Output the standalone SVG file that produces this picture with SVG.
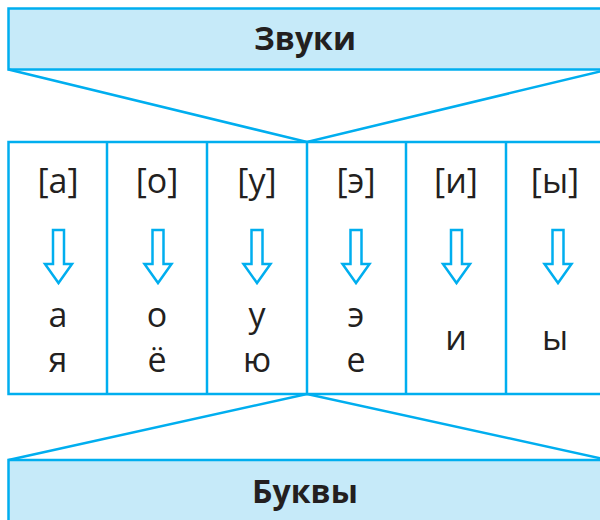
<svg xmlns="http://www.w3.org/2000/svg" width="600" height="520" viewBox="0 0 600 520">
<defs>
<style>
.ln{stroke:#00aeef;stroke-width:2.5;fill:none}
.hd{fill:#c6eaf9;stroke:#00aeef;stroke-width:2.5}
.t{font-family:"Open Sans","Noto Sans",sans-serif;font-size:34px;fill:#231f20;text-anchor:middle}
.b{font-family:"Open Sans","Noto Sans",sans-serif;font-size:32px;font-weight:bold;fill:#231f20;text-anchor:middle}
.ar{fill:#fff;stroke:#00aeef;stroke-width:2.5;stroke-linejoin:miter}
</style>
<path id="arrow" class="ar" d="M-5.5,-53 H5.5 V-19 H13.5 L0,0 L-13.5,-19 H-5.5 Z"/>
</defs>
<rect width="600" height="520" fill="#fff"/>
<g id="zvuki">
<rect class="hd" x="8.5" y="8.5" width="600" height="61"/>
<text class="b" x="305" y="50">Звуки</text>
</g>
<g id="bukvy">
<rect class="hd" x="8.5" y="460" width="600" height="70"/>
<text class="b" x="305" y="503">Буквы</text>
</g>
<g id="connectors">
<polyline class="ln" points="8.5,69.5 307,142 608,69.5"/>
<polyline class="ln" points="8.5,460 307,394 608,460"/>
</g>
<g id="table">
<rect class="ln" x="8.5" y="142" width="600" height="252"/>
<line class="ln" x1="107" y1="142" x2="107" y2="394"/>
<line class="ln" x1="207" y1="142" x2="207" y2="394"/>
<line class="ln" x1="307" y1="142" x2="307" y2="394"/>
<line class="ln" x1="406" y1="142" x2="406" y2="394"/>
<line class="ln" x1="506" y1="142" x2="506" y2="394"/>
</g>
<g id="col-a">
<text class="t" x="58" y="193">[а]</text>
<use href="#arrow" x="58.5" y="283"/>
<text class="t" x="58" y="327">а</text>
<text class="t" x="58" y="372">я</text>
</g>
<g id="col-o">
<text class="t" x="157" y="193">[о]</text>
<use href="#arrow" x="158" y="283"/>
<text class="t" x="157" y="327">о</text>
<text class="t" x="157" y="372">ё</text>
</g>
<g id="col-u">
<text class="t" x="257" y="193">[у]</text>
<use href="#arrow" x="257" y="283"/>
<text class="t" x="257" y="327">у</text>
<text class="t" x="257" y="372">ю</text>
</g>
<g id="col-e">
<text class="t" x="356" y="193">[э]</text>
<use href="#arrow" x="356" y="283"/>
<text class="t" x="356" y="327">э</text>
<text class="t" x="356" y="372">е</text>
</g>
<g id="col-i">
<text class="t" x="456" y="193">[и]</text>
<use href="#arrow" x="456.5" y="283"/>
<text class="t" x="456" y="350">и</text>
</g>
<g id="col-y">
<text class="t" x="555" y="193">[ы]</text>
<use href="#arrow" x="558" y="283"/>
<text class="t" x="555" y="350">ы</text>
</g>
</svg>
